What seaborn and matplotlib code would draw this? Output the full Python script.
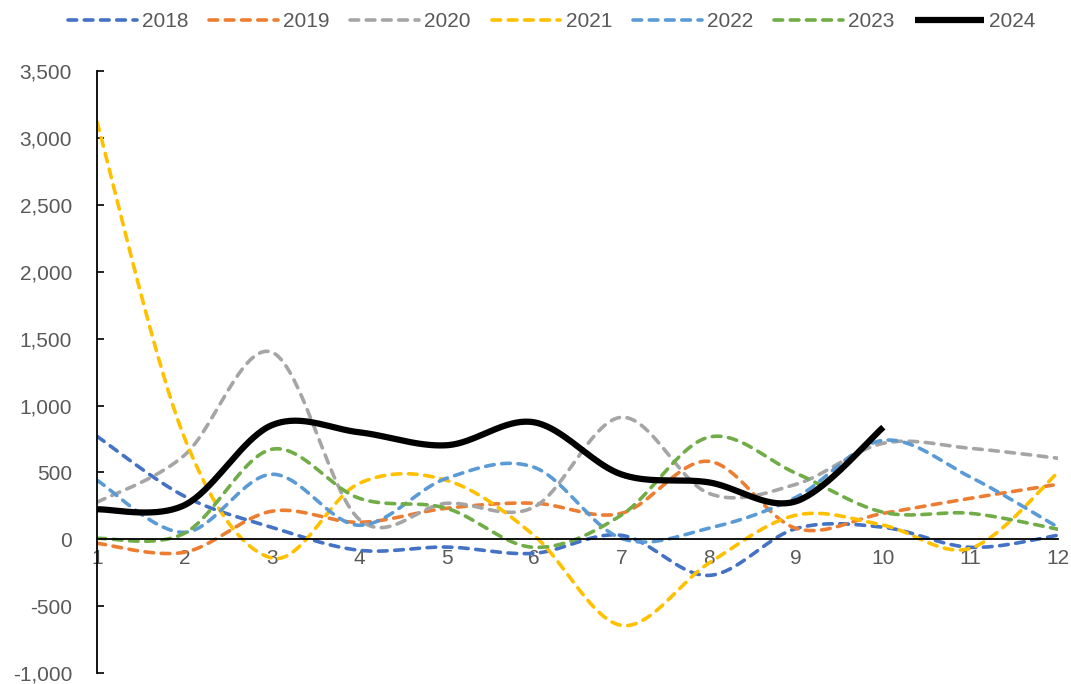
import numpy as np
import pandas as pd
import matplotlib
matplotlib.use("Agg")
import matplotlib.pyplot as plt
import seaborn as sns
from matplotlib.ticker import FuncFormatter, MultipleLocator

months = list(range(1, 13))
years = ["2018", "2019", "2020", "2021", "2022", "2023", "2024"]

v2018 = [770, 322, 90, -82, -58, -105, 30, -270, 80, 90, -60, 30]
v2019 = [-30, -97, 210, 127, 232, 270, 194, 583, 82, 194, 307, 411]
v2020 = [277, 628, 1399, 150, 269, 240, 912, 344, 411, 718, 680, 606]
v2021 = [3120, 760, -140, 418, 441, 30, -643, -180, 180, 105, -67, 500]
v2022 = [441, 52, 486, 105, 456, 539, 7, 82, 314, 740, 464, 90]
v2023 = [7, 45, 673, 307, 232, -60, 180, 763, 494, 202, 194, 75]
v2024 = [224, 255, 853, 800, 703, 875, 486, 426, 284, 838]

series = [v2018, v2019, v2020, v2021, v2022, v2023, v2024]
colors = ["#4472C4", "#ED7D31", "#A5A5A5", "#FFC000", "#5B9BD5", "#70AD47", "#000000"]


def smooth(xs, ys, n=40):
    """Bezier smoothing through every point (Catmull-Rom style control points)."""
    P = np.column_stack([xs, ys]).astype(float)
    m = len(P)
    out = []
    t = np.linspace(0, 1, n)
    for i in range(m - 1):
        p0 = P[i - 1] if i > 0 else P[i]
        p1 = P[i]
        p2 = P[i + 1]
        p3 = P[i + 2] if i + 2 < m else P[i + 1]
        c1 = p1 + (p2 - p0) / 6.0
        c2 = p2 - (p3 - p1) / 6.0
        seg = ((1 - t) ** 3)[:, None] * p1 + (3 * (1 - t) ** 2 * t)[:, None] * c1 \
            + (3 * (1 - t) * t ** 2)[:, None] * c2 + (t ** 3)[:, None] * p2
        out.append(seg if i == 0 else seg[1:])
    return np.vstack(out)


sns.set_theme(style="white")
plt.rcParams["font.family"] = ["Liberation Sans", "DejaVu Sans"]

fig = plt.figure(figsize=(10.71, 6.84), dpi=100)
ax = fig.add_axes([0.0906, 0.016, 0.8973, 0.880])

for year, vals, col in zip(years, series, colors):
    xs = months[:len(vals)]
    curve = smooth(xs, vals)
    df = pd.DataFrame({"month": curve[:, 0], "value": curve[:, 1]})
    if year == "2024":
        sns.lineplot(data=df, x="month", y="value", ax=ax, color=col, lw=4.5,
                     label=year, sort=False, estimator=None,
                     solid_capstyle="butt")
    else:
        sns.lineplot(data=df, x="month", y="value", ax=ax, color=col, lw=2.6,
                     label=year, sort=False, estimator=None)
        ln = ax.lines[-1]
        ln.set_dashes((2.4, 2.1))
        ln.set_dash_capstyle("round")

ax.set_xlim(1, 12)
ax.set_ylim(-1000, 3500)
ax.yaxis.set_major_locator(MultipleLocator(500))
ax.yaxis.set_major_formatter(FuncFormatter(lambda v, p: f"{int(v):,}"))
ax.set_xticks(months)
ax.set_xlabel("")
ax.set_ylabel("")

for s in ["top", "right"]:
    ax.spines[s].set_visible(False)
ax.spines["bottom"].set_position(("data", 0))
ax.spines["bottom"].set_color("black")
ax.spines["bottom"].set_linewidth(1.3)
ax.spines["left"].set_color("black")
ax.spines["left"].set_linewidth(1.3)

ax.tick_params(axis="x", direction="in", length=5, width=1.2, color="black",
               labelsize=15, labelcolor="#595959", pad=7)
ax.tick_params(axis="y", direction="in", length=5, width=1.2, color="black",
               labelsize=15, labelcolor="#595959", pad=18, left=True)

handles, labels = ax.get_legend_handles_labels()
ax.get_legend().remove()
fig.legend(handles, labels, loc="upper center", bbox_to_anchor=(0.515, 1.01),
           ncol=7, frameon=False, fontsize=15, labelcolor="#595959",
           handlelength=3.3, handletextpad=0.25, columnspacing=1.0)

fig.savefig("out.png", dpi=100)
